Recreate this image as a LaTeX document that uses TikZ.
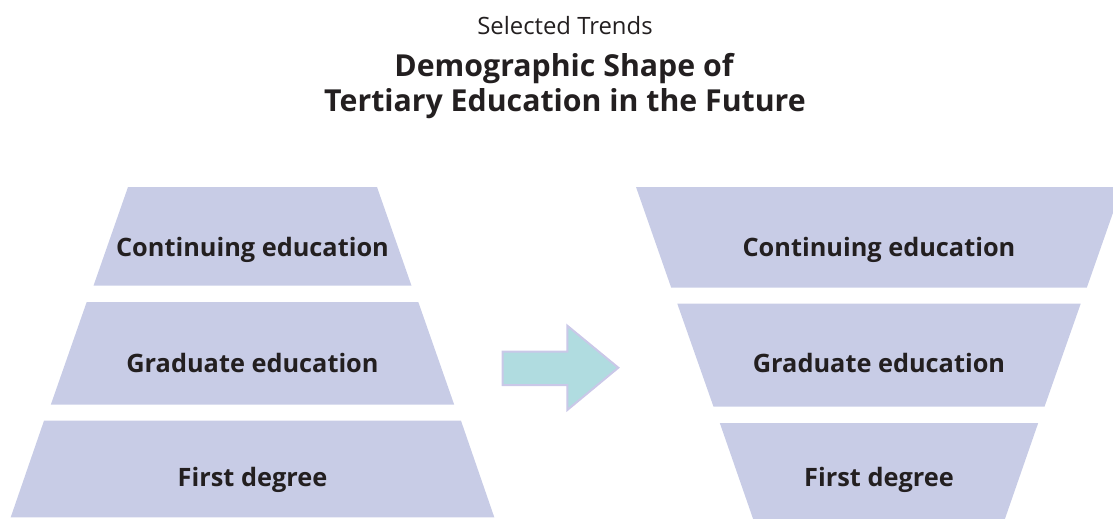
\documentclass[tikz,border=0pt]{standalone}
\usepackage{fontspec}
\setmainfont{Open Sans}
\definecolor{tierblue}{RGB}{200,204,230}
\definecolor{arrowfill}{RGB}{176,220,224}
\definecolor{arrowline}{RGB}{202,200,232}
\definecolor{inkdark}{RGB}{35,31,32}

\begin{document}
\begin{tikzpicture}[x=0.75pt, y=-0.75pt,
	tier/.style={fill=tierblue, draw=none},
	lbl/.style={anchor=base, text=inkdark, font=\bfseries\fontsize{19}{23}\selectfont}]
		\useasboundingbox (0,0) rectangle (1113,518);
		
		% heading
		\node[anchor=base, text=inkdark, font=\fontsize{17.9}{21}\selectfont] (sub) at (565,34) {Selected Trends};
		\node[anchor=base, text=inkdark, font=\bfseries\fontsize{22.7}{27}\selectfont] (head1) at (564,76) {Demographic Shape of};
		\node[anchor=base, text=inkdark, font=\bfseries\fontsize{22.7}{27}\selectfont] (head2) at (565,111.7) {Tertiary Education in the Future};
		
		% today: pyramid
		\foreach \n/\yt/\yb/\wt/\wb/\yl/\txt in {cont/187/285.7/124.5/159/256.7/Continuing education, grad/302/404.7/165.8/201.7/372.7/Graduate education, first/420.7/517.3/208.5/241.8/486/First degree}
		{
			\fill[tier] (252.5-\wt,\yt) -- (252.5+\wt,\yt) -- (252.5+\wb,\yb) -- (252.5-\wb,\yb) -- cycle;
			\node[lbl] (l\n) at (252.5,\yl) {\txt};
		}
		
		% future: inverted
		\foreach \n/\yt/\yb/\wt/\wb/\yl/\txt in {cont/187/287.7/243/207.8/256.7/Continuing education, grad/303.7/406.7/201.7/165.5/372.7/Graduate education, first/423/521/159.2/125.2/486/First degree}
		{
			\fill[tier] (879-\wt,\yt) -- (879+\wt,\yt) -- (879+\wb,\yb) -- (879-\wb,\yb) -- cycle;
			\node[lbl] (r\n) at (879,\yl) {\txt};
		}
		
		% arrow
		\draw[fill=arrowfill, draw=arrowline, line width=1.5pt, line join=miter]
			(502.7,351.7) -- (567.3,351.7) -- (567.3,325.7) -- (618.3,367.7)
			-- (567.3,410) -- (567.3,385) -- (502.7,385) -- cycle;
	\end{tikzpicture}
\end{document}
